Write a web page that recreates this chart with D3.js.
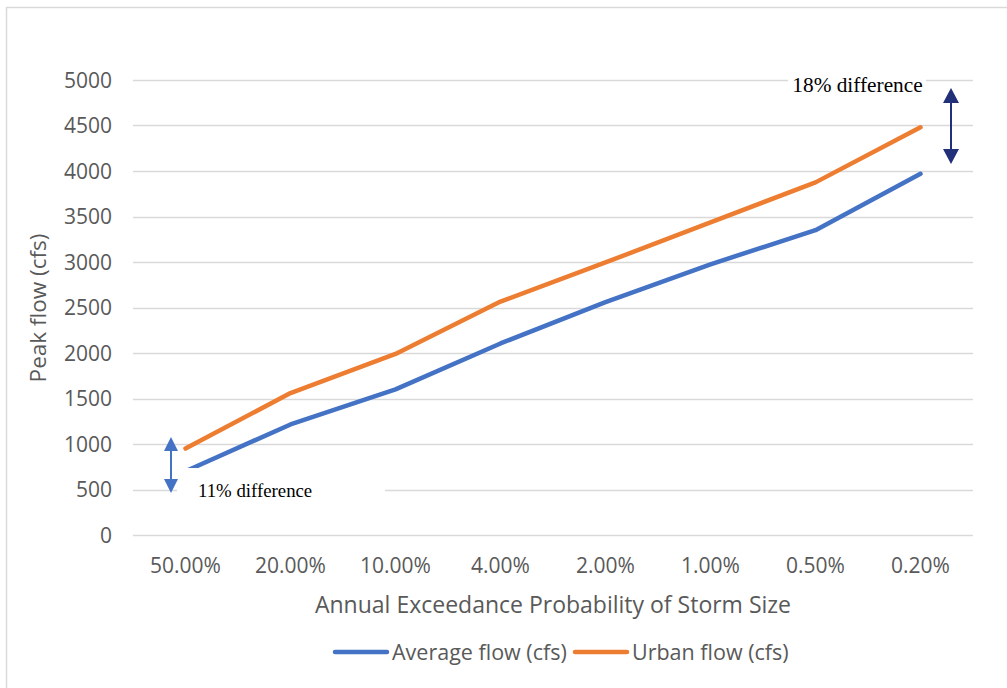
<!DOCTYPE html>
<html><head><meta charset="utf-8">
<script src="https://cdn.jsdelivr.net/npm/d3@7"></script>
<style>html,body{margin:0;padding:0;background:#fff;}svg{display:block;}</style>
</head><body>
<svg id="chart" width="1007" height="688"></svg>
<script>
const categories = ["50.00%","20.00%","10.00%","4.00%","2.00%","1.00%","0.50%","0.20%"];
const averageFlow = [700, 1215, 1600, 2105, 2560, 2975, 3350, 3970];
const urbanFlow = [950, 1560, 1990, 2565, 2995, 3435, 3875, 4480];
const yTicks = [0,500,1000,1500,2000,2500,3000,3500,4000,4500,5000];
const seriesNames = ["Average flow (cfs)","Urban flow (cfs)"];
const colors = ["#4472C4","#ED7D31"];

const svg = d3.select("#chart");
const font = "'Open Sans', sans-serif";
const serif = "'Liberation Serif', 'Times New Roman', serif";
const textColor = "#595959";

svg.append("rect").attr("x",6.5).attr("y",7.5).attr("width",1010).attr("height",700)
  .attr("fill","#fff").attr("stroke","#d9d9d9").attr("stroke-width",1.5);

const x = d3.scaleBand().domain(categories).range([133,973]);
const y = d3.scaleLinear().domain([0,5000]).range([535,80]);

// gridlines
svg.append("g").selectAll("line").data(yTicks).join("line")
  .attr("x1",133).attr("x2",973)
  .attr("y1",d=>Math.round(y(d))+0.5).attr("y2",d=>Math.round(y(d))+0.5)
  .attr("stroke","#d9d9d9").attr("stroke-width",1.5);

// y axis labels
const yAxis = d3.axisLeft(y).tickValues(yTicks).tickFormat(d3.format("d")).tickSize(0).tickPadding(0);
const gy = svg.append("g").attr("transform","translate(112,0)").call(yAxis);
gy.select(".domain").remove();
gy.selectAll("text").attr("font-family",font).attr("font-size",21).attr("fill",textColor).attr("dy","0.35em");

// x axis labels
const xAxis = d3.axisBottom(x).tickSize(0).tickPadding(0);
const gx = svg.append("g").attr("transform","translate(0,566)").call(xAxis);
gx.select(".domain").remove();
gx.selectAll("text").attr("font-family",font).attr("font-size",21).attr("fill",textColor).attr("dy","0.35em");

// axis titles
svg.append("text").attr("x",553).attr("y",605).attr("text-anchor","middle").attr("dy","0.35em")
  .attr("font-family",font).attr("font-size",23).attr("fill",textColor)
  .text("Annual Exceedance Probability of Storm Size");
svg.append("text").attr("transform","translate(38,308) rotate(-90)").attr("text-anchor","middle").attr("dy","0.35em")
  .attr("font-family",font).attr("font-size",22.5).attr("fill",textColor)
  .text("Peak flow (cfs)");

// lines
const line = d3.line().x((d,i)=>x(categories[i])+x.bandwidth()/2).y(d=>y(d));
[averageFlow, urbanFlow].forEach((s,k)=>{
  svg.append("path").datum(s).attr("d",line).attr("fill","none")
    .attr("stroke",colors[k]).attr("stroke-width",4.5)
    .attr("stroke-linecap","round").attr("stroke-linejoin","round");
});

// annotation text boxes
svg.append("rect").attr("x",177).attr("y",468).attr("width",208).attr("height",44).attr("fill","#fff");
svg.append("text").attr("x",198).attr("y",497).attr("font-family",serif)
  .attr("font-size",18.8).attr("fill","#000").text("11% difference");
svg.append("rect").attr("x",788).attr("y",66).attr("width",138).attr("height",34).attr("fill","#fff");
svg.append("text").attr("x",857.5).attr("y",92).attr("text-anchor","middle").attr("font-family",serif)
  .attr("font-size",21.3).attr("fill","#000").text("18% difference");

// double arrows
function dblArrow(cx, y1, y2, w, h, color){
  const g = svg.append("g");
  g.append("line").attr("x1",cx).attr("x2",cx).attr("y1",y1+h-1).attr("y2",y2-h+1)
    .attr("stroke",color).attr("stroke-width",2);
  g.append("path").attr("d",`M${cx},${y1} L${cx+w/2},${y1+h} L${cx-w/2},${y1+h} Z`).attr("fill",color);
  g.append("path").attr("d",`M${cx},${y2} L${cx+w/2},${y2-h} L${cx-w/2},${y2-h} Z`).attr("fill",color);
}
dblArrow(171, 437, 493, 14, 14, "#4472C4");
dblArrow(951, 88, 164, 16, 15, "#22307a");

// legend
const legX = [333, 573];
seriesNames.forEach((n,k)=>{
  svg.append("line").attr("x1",legX[k]+2).attr("x2",legX[k]+54).attr("y1",652).attr("y2",652)
    .attr("stroke",colors[k]).attr("stroke-width",4.5).attr("stroke-linecap","round");
  svg.append("text").attr("x",legX[k]+59).attr("y",652).attr("dy","0.35em")
    .attr("font-family",font).attr("font-size",21.5).attr("fill",textColor).text(n);
});
</script>
</body></html>
